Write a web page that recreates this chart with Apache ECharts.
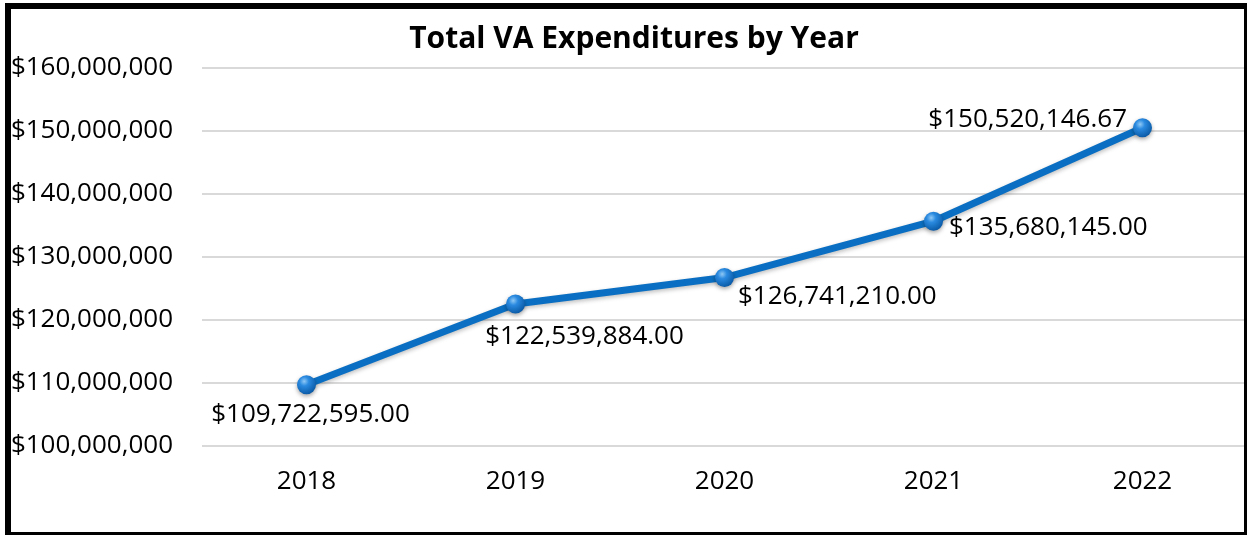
<!DOCTYPE html>
<html>
<head>
<meta charset="utf-8">
<script src="https://cdn.jsdelivr.net/npm/echarts@6/dist/echarts.min.js"></script>
<style>
html,body{margin:0;padding:0;background:#fff;}
#main{width:1247px;height:535px;}
</style>
</head>
<body>
<div id="main"></div>
<script>
var years = ['2018', '2019', '2020', '2021', '2022'];
var totals = [109722595.00, 122539884.00, 126741210.00, 135680145.00, 150520146.67];
var yTicks = [100000000, 110000000, 120000000, 130000000, 140000000, 150000000, 160000000];

// label placement per point (like the excel chart, manual positions)
var labelPos = [
    {position: 'bottom', offset: [4, -1], align: 'center'},
    {position: 'bottom', offset: [69, 2], align: 'center'},
    {position: 'right', offset: [-4, 19], align: 'left'},
    {position: 'right', offset: [-2, 6], align: 'left'},
    {position: 'left', offset: [2, -8], align: 'right'}
];

function money(v, dec) {
    var s = v.toFixed(dec);
    var parts = s.split('.');
    parts[0] = parts[0].replace(/\B(?=(\d{3})+(?!\d))/g, ',');
    return '$' + parts.join('.');
}

var fontName = 'Open Sans';

function bindEcharts() {
    var myChart = echarts.init(document.getElementById('main'));

    var seriesData = totals.map(function (v, i) {
        return {value: v, label: labelPos[i]};
    });

    var option = {
        backgroundColor: '#fff',
        animation: false,
        title: {
            text: 'Total VA Expenditures by Year',
            left: 629,
            top: 19,
            textAlign: 'center',
            textStyle: {fontFamily: fontName, fontSize: 30, fontWeight: 'bold', color: '#000'}
        },
        grid: {left: 202, right: 0, top: 68, height: 378, containLabel: false},
        xAxis: {
            type: 'category',
            data: years,
            boundaryGap: true,
            axisLine: {show: false},
            axisTick: {show: false},
            axisLabel: {fontFamily: fontName, fontSize: 26, color: '#000', margin: 23}
        },
        yAxis: {
            type: 'value',
            min: yTicks[0],
            max: yTicks[yTicks.length - 1],
            interval: 10000000,
            axisLine: {show: false},
            axisTick: {show: false},
            splitLine: {lineStyle: {color: '#d9d9d9', width: 2}},
            axisLabel: {
                fontFamily: fontName, fontSize: 26, color: '#000', margin: 29,
                formatter: function (v) { return money(v, 0); }
            }
        },
        series: [{
            type: 'line',
            data: seriesData,
            symbol: 'circle',
            symbolSize: 19,
            lineStyle: {
                color: '#0a6fc2', width: 7,
                shadowColor: 'rgba(0,0,0,0.25)', shadowBlur: 4, shadowOffsetY: 2
            },
            itemStyle: {
                color: new echarts.graphic.RadialGradient(0.38, 0.32, 0.7, [
                    {offset: 0, color: '#8fc8f5'},
                    {offset: 0.35, color: '#2a8ae0'},
                    {offset: 1, color: '#0a5aa6'}
                ]),
                shadowColor: 'rgba(0,0,0,0.35)', shadowBlur: 4, shadowOffsetY: 2
            },
            label: {
                show: true,
                fontFamily: fontName, fontSize: 26, color: '#000',
                distance: 8,
                formatter: function (p) { return money(p.value, 2); }
            },
            z: 3
        }],
        graphic: [
            {type: 'rect', shape: {x: 5, y: 3, width: 1242, height: 6}, style: {fill: '#000'}, z: 100},
            {type: 'rect', shape: {x: 5, y: 3, width: 6, height: 532}, style: {fill: '#000'}, z: 100},
            {type: 'rect', shape: {x: 1244, y: 3, width: 3, height: 532}, style: {fill: '#000'}, z: 100},
            {type: 'rect', shape: {x: 5, y: 532, width: 1242, height: 3}, style: {fill: '#000'}, z: 100}
        ]
    };

    myChart.setOption(option);
}

bindEcharts();
</script>
</body>
</html>
